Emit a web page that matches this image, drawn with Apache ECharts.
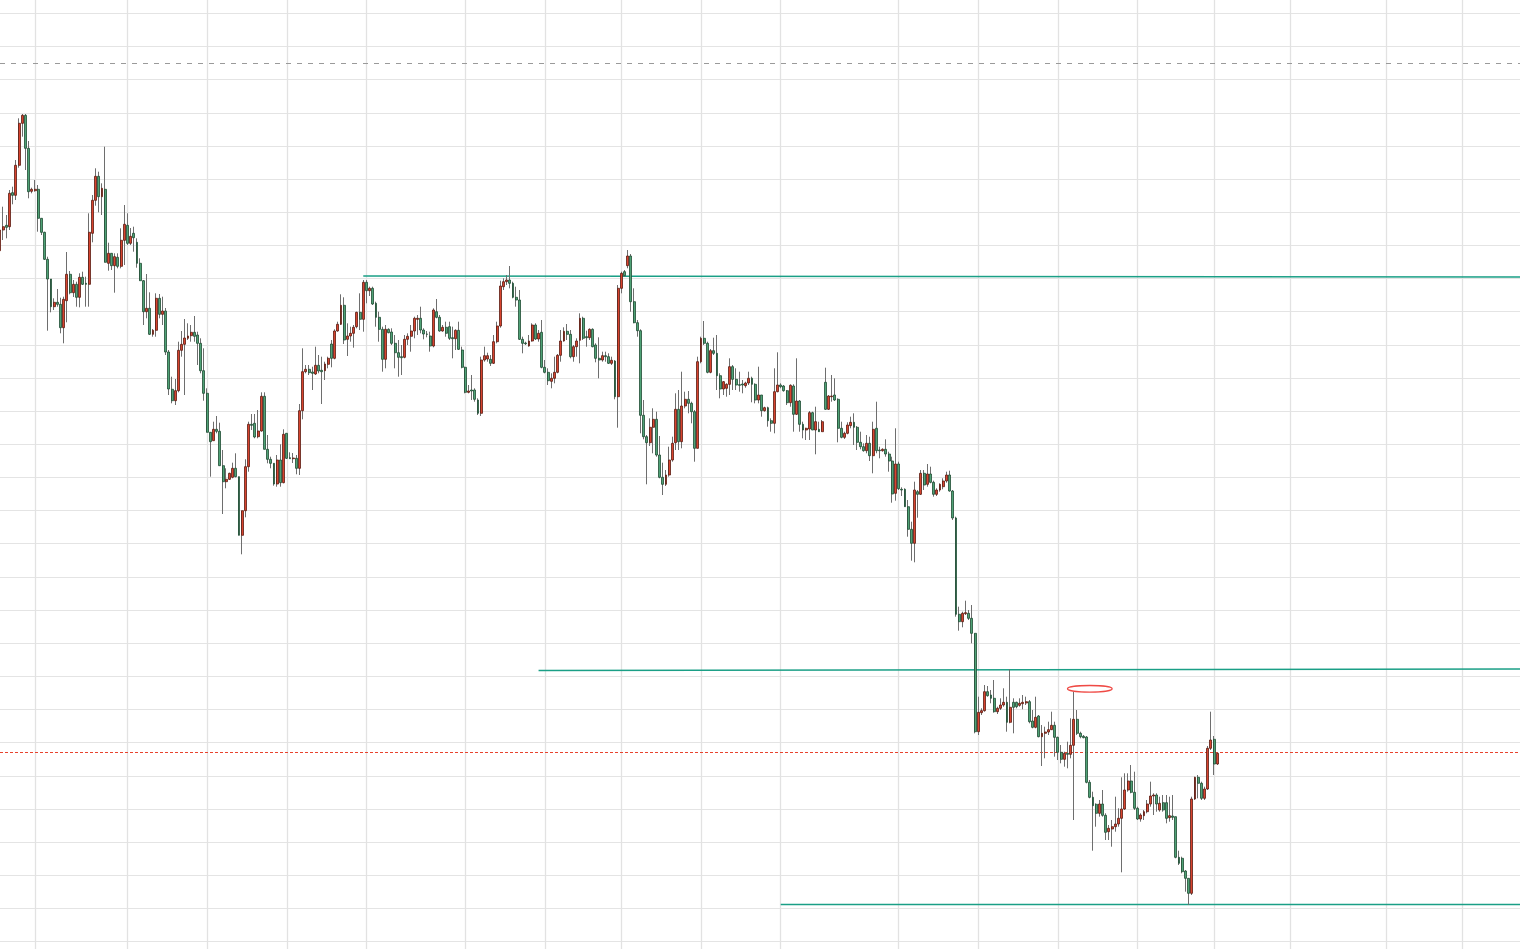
<!DOCTYPE html>
<html><head><meta charset="utf-8">
<script src="https://cdn.jsdelivr.net/npm/echarts@6/dist/echarts.min.js"></script>
<style>html,body{margin:0;padding:0;background:#fff;overflow:hidden;width:1521px;height:949px;position:relative;}
#c{position:absolute;left:0;top:-20px;width:1521px;height:996px;}</style>
</head><body><div id="c"></div>
<script>
// ---- candle data (price units) ----
const openP = [
74.93,77.00,77.47,77.33,80.73,80.47,83.47,87.67,88.47,85.17,
80.87,80.93,81.07,78.17,76.77,74.07,72.10,69.33,69.77,69.57,
67.23,69.93,72.57,70.73,71.57,70.27,72.27,71.67,71.57,76.67,
79.97,82.37,80.33,81.07,73.67,74.67,73.43,74.27,73.37,75.97,
77.47,75.67,76.67,75.77,73.67,71.93,68.83,69.17,66.57,66.97,
70.17,68.57,68.90,64.80,61.07,59.93,60.93,64.97,65.57,66.17,
66.43,66.77,66.50,65.67,62.93,60.67,56.77,55.93,57.07,56.87,
53.43,51.83,52.07,52.27,53.17,52.33,46.47,48.93,53.33,57.57,
57.67,56.33,56.90,60.37,55.07,54.07,53.67,51.60,54.00,51.73,
56.67,54.23,54.13,54.17,53.17,58.93,62.83,63.07,62.80,62.60,
63.47,62.97,62.93,63.57,65.60,64.17,66.90,67.57,69.47,66.07,
66.40,66.67,67.33,68.77,68.07,71.77,70.93,71.17,69.67,68.27,
67.07,64.07,67.07,66.80,65.67,64.73,64.33,64.27,66.07,66.37,
66.90,68.07,68.17,67.00,66.60,66.40,65.40,68.83,68.27,66.90,
67.27,67.33,66.23,66.13,66.97,65.00,63.27,60.77,61.00,61.00,
60.00,58.67,64.00,64.10,64.07,63.67,65.83,67.40,71.33,71.83,
72.00,71.67,70.27,70.00,66.07,65.70,65.40,65.90,67.50,66.10,
66.77,63.27,62.77,61.87,62.17,62.77,64.47,65.90,66.87,66.57,
64.33,65.33,65.97,68.17,66.33,66.23,67.07,65.50,64.17,64.00,
64.43,64.33,63.67,63.90,60.33,71.17,72.83,73.43,74.40,69.83,
67.73,66.93,58.47,56.33,55.73,57.27,58.07,54.50,52.27,51.57,
52.50,54.00,55.73,59.07,55.83,59.40,60.07,59.67,58.83,55.17,
63.83,66.17,65.67,62.77,64.93,64.67,62.43,61.10,61.17,61.57,
63.33,62.07,61.53,61.60,61.43,61.70,62.17,61.57,60.00,60.50,
58.93,59.23,57.93,57.67,60.83,61.50,61.40,60.93,59.73,61.40,
58.57,59.90,57.57,57.00,57.10,58.73,57.00,57.07,56.83,61.77,
59.07,60.33,60.50,60.07,57.17,56.27,56.67,57.43,57.77,57.27,
55.77,55.33,54.93,55.67,54.43,57.17,55.00,54.93,55.07,54.60,
53.90,50.67,53.60,51.07,51.07,49.33,47.07,45.67,50.83,50.57,
52.67,51.57,52.60,51.77,50.57,51.00,51.33,51.90,52.50,50.90,
48.20,38.57,37.83,38.63,38.67,38.17,36.67,26.83,28.73,28.93,
30.83,30.50,30.17,28.83,29.17,29.50,29.77,27.77,29.77,29.77,
29.47,29.63,29.70,29.83,27.90,27.27,28.40,26.33,26.67,26.80,
27.03,27.47,26.27,24.77,24.07,24.67,24.57,25.47,28.07,26.67,
26.37,26.30,21.77,20.27,19.57,18.67,19.60,18.47,16.83,17.10,
17.33,17.60,18.17,19.10,21.00,21.90,20.77,19.17,18.10,18.43,
18.83,19.60,20.40,20.50,19.00,19.73,19.73,18.23,18.40,18.33,
14.27,14.17,12.90,12.17,10.67,20.10,22.27,21.67,20.17,21.10,
25.17,26.07,23.60];
const highP = [
77.20,79.33,78.50,81.00,81.33,84.00,88.17,88.60,88.60,85.90,
81.23,82.00,81.50,78.17,76.83,74.33,72.10,70.17,71.10,70.23,
70.33,74.80,72.90,72.00,71.83,72.67,72.83,72.33,78.67,80.50,
83.17,82.83,81.67,85.33,75.73,74.67,74.67,74.67,77.17,79.50,
78.67,77.20,77.33,76.17,74.17,72.00,72.60,70.77,67.10,70.67,
70.60,70.33,69.20,65.00,62.33,62.10,65.83,66.90,68.10,67.67,
67.50,68.40,66.83,66.17,65.17,61.17,56.77,57.83,58.40,57.73,
55.00,53.17,52.73,53.73,54.67,52.33,48.93,54.07,57.83,58.60,
58.60,59.00,60.77,60.77,56.50,54.33,53.67,54.50,55.57,57.07,
56.67,54.77,54.70,54.50,59.60,65.17,63.50,63.50,63.33,65.33,
64.50,64.33,63.83,64.33,66.00,67.07,67.83,70.57,70.27,67.67,
67.33,67.50,68.83,70.67,72.00,72.00,71.33,71.33,69.83,68.83,
67.33,67.50,67.17,67.17,66.50,66.00,65.50,66.50,66.67,67.50,
68.33,68.50,69.33,67.17,66.90,66.83,69.17,70.10,68.50,67.50,
67.83,67.83,67.33,67.07,67.83,65.33,63.33,61.50,62.50,61.17,
60.17,64.33,65.33,64.73,64.50,66.50,67.83,71.93,72.17,72.50,
73.40,71.83,71.33,71.00,66.33,65.83,66.50,67.67,67.67,67.00,
68.00,64.00,63.17,62.67,64.33,64.60,67.00,67.27,67.60,67.00,
65.50,66.17,68.67,68.33,66.93,67.17,67.17,65.67,66.27,64.83,
64.83,64.67,64.33,64.00,71.50,72.83,73.00,75.00,74.60,71.17,
68.00,67.07,60.00,56.50,58.17,59.17,58.83,56.40,53.73,53.00,
55.33,56.33,60.67,61.00,62.83,60.83,60.90,59.83,59.00,64.33,
66.33,67.90,65.83,65.10,66.23,66.50,62.67,61.90,61.67,64.17,
63.50,63.17,62.83,62.00,61.83,62.83,62.33,61.67,63.33,60.50,
59.33,59.33,58.17,63.17,64.77,61.67,61.50,61.00,61.57,61.57,
64.17,60.00,57.83,57.23,58.90,58.83,59.33,57.83,58.00,63.23,
60.50,62.50,62.17,60.17,57.83,56.83,57.77,58.33,58.67,57.40,
56.83,55.67,56.50,56.33,57.83,59.83,55.33,55.17,56.07,54.83,
54.33,57.17,53.83,51.27,51.17,50.00,47.83,51.83,51.00,53.00,
53.00,53.60,53.33,51.93,51.17,51.67,52.17,52.83,52.93,51.00,
48.33,39.33,38.83,39.93,39.00,39.50,36.67,30.33,29.17,31.50,
31.40,31.00,32.00,29.33,30.17,31.17,30.33,33.07,30.17,29.83,
30.17,30.50,30.33,30.00,29.00,30.33,28.50,27.50,27.33,27.83,
28.83,27.83,26.33,25.50,24.83,25.83,28.17,30.83,29.00,26.83,
26.50,26.40,22.00,20.83,19.67,20.00,21.00,18.67,17.50,18.00,
20.33,19.17,22.27,22.67,22.67,23.50,22.83,19.33,18.67,19.00,
20.00,21.83,20.67,20.67,20.33,20.50,20.50,20.33,20.50,18.33,
14.93,14.33,13.00,12.17,20.33,22.33,22.50,21.83,21.33,25.40,
28.83,26.40,24.73];
const lowP = [
74.60,76.00,76.17,77.00,79.57,80.00,83.23,86.33,83.00,80.17,
80.67,80.83,76.83,76.50,74.00,66.93,68.77,69.00,69.33,66.67,
65.67,67.77,70.57,70.30,69.33,69.27,71.50,69.33,69.33,75.77,
79.43,78.77,78.50,73.77,72.93,73.00,70.73,73.17,73.17,73.50,
75.50,75.50,74.83,73.23,71.93,67.50,68.17,66.50,66.33,66.33,
68.17,67.50,64.50,60.50,59.67,59.50,60.77,64.33,60.50,66.00,
65.83,65.83,63.50,62.67,59.93,56.77,52.33,55.93,56.67,53.43,
48.60,51.17,52.00,52.17,52.27,46.47,44.57,48.27,52.83,57.00,
56.17,56.17,56.83,55.07,53.67,53.17,51.43,51.33,51.33,51.67,
54.10,54.13,53.70,52.57,52.50,58.07,62.67,62.50,61.00,62.50,
62.67,59.60,62.00,63.17,63.27,64.07,66.83,67.50,65.60,64.40,
65.83,65.23,67.17,67.00,66.83,69.67,70.40,69.50,67.33,65.83,
62.83,63.17,66.67,65.50,63.17,62.33,62.50,64.17,65.50,64.83,
66.17,66.50,66.67,66.07,66.27,64.83,65.27,68.17,66.83,66.83,
66.33,66.00,64.17,65.00,65.00,63.17,60.67,60.67,60.00,59.83,
58.50,58.40,63.83,63.83,63.40,63.60,65.67,67.23,71.00,71.50,
71.17,70.17,69.33,66.00,64.67,65.50,65.33,65.83,66.00,65.83,
63.17,62.67,61.50,61.17,61.67,62.67,63.83,65.83,66.00,64.17,
63.83,64.33,63.67,66.00,65.33,66.00,65.27,63.77,62.17,63.83,
63.83,63.60,63.50,60.07,57.23,70.67,72.33,73.17,68.83,67.67,
66.33,56.67,56.07,51.57,55.40,54.67,54.33,52.17,50.50,51.40,
52.33,53.83,55.00,55.00,55.17,59.17,58.67,57.67,53.83,55.17,
63.67,65.50,62.67,62.67,64.50,61.00,60.17,60.50,60.33,60.50,
61.00,61.00,60.83,60.67,61.23,61.50,59.77,59.67,59.67,58.33,
58.83,57.33,56.83,56.67,60.77,61.17,60.83,59.50,59.33,56.83,
58.50,56.83,56.17,56.00,56.00,57.00,54.57,56.83,56.83,59.00,
59.00,59.83,59.90,55.77,56.17,56.10,56.57,57.17,55.50,55.00,
55.07,54.83,54.67,53.90,52.67,54.67,54.17,54.83,54.33,52.83,
49.73,49.93,51.00,50.40,49.33,46.33,43.93,43.77,48.23,50.50,
51.00,51.33,51.67,50.33,50.40,50.83,51.07,51.73,50.83,48.00,
38.33,36.93,37.27,38.50,38.00,35.67,26.67,26.50,28.50,28.83,
30.33,29.67,28.73,28.60,29.00,29.33,26.83,27.67,26.67,29.17,
29.33,29.07,29.50,27.67,27.17,27.17,26.27,23.40,24.17,26.50,
27.00,24.33,24.00,23.67,23.33,23.17,24.17,18.00,26.50,26.17,
26.17,21.67,20.17,14.93,17.33,18.33,18.33,16.00,16.00,15.33,
16.83,17.33,12.77,19.00,20.83,20.67,19.00,18.00,17.83,18.00,
18.67,19.33,18.50,18.83,18.83,18.83,17.67,17.83,18.00,14.17,
13.50,12.67,10.83,9.50,10.50,20.00,20.17,20.00,20.00,21.00,
25.00,22.50,23.50];
const closeP = [
77.00,77.33,77.27,80.67,80.47,83.47,87.67,88.47,85.17,80.83,
81.07,81.07,78.17,76.77,74.07,72.10,69.33,69.77,69.57,67.23,
70.07,72.57,70.73,71.57,70.27,72.27,71.57,71.57,76.77,79.97,
82.37,80.33,81.17,73.77,74.67,73.43,74.33,73.37,75.97,77.57,
75.67,76.37,76.23,73.67,71.93,68.83,69.17,66.57,66.97,70.17,
68.57,68.90,64.80,61.10,59.93,60.93,64.97,65.57,66.20,66.40,
66.77,66.37,65.67,62.93,60.67,56.77,55.83,57.07,56.87,53.43,
51.83,52.07,52.67,53.17,52.33,46.47,48.93,53.33,57.57,57.47,
56.30,56.90,60.37,55.07,54.07,53.67,51.60,54.00,51.73,56.57,
54.17,54.13,54.20,53.17,58.93,62.83,63.07,62.73,62.67,63.47,
62.90,62.83,63.60,64.17,64.17,66.90,67.57,69.47,66.00,66.40,
66.67,67.27,68.77,68.07,71.77,70.93,71.17,69.60,68.27,67.07,
64.07,67.07,66.73,65.67,64.73,64.27,64.23,66.07,66.37,66.90,
68.17,68.17,67.00,66.60,66.57,65.40,69.00,68.27,66.90,67.27,
66.67,66.17,66.13,66.97,65.07,63.27,60.77,60.90,60.90,60.07,
58.67,64.00,64.43,64.43,63.67,65.83,67.40,71.40,71.83,72.00,
71.67,70.27,70.00,66.07,65.67,65.63,65.90,67.50,66.10,66.67,
63.27,62.77,61.93,62.17,62.77,64.47,65.90,66.87,66.57,64.33,
65.33,65.90,68.17,66.17,66.23,67.07,65.33,64.17,64.00,64.43,
64.33,63.67,63.97,60.33,71.17,72.67,72.43,74.40,69.83,67.73,
66.93,58.47,56.33,55.73,57.27,58.07,54.50,52.27,51.57,52.50,
54.00,55.67,59.07,55.83,59.40,60.07,59.67,58.83,55.17,63.83,
66.17,65.67,62.77,64.93,64.67,62.43,61.10,61.83,61.57,63.33,
62.07,61.50,61.47,61.50,61.70,62.17,61.57,60.00,60.50,58.93,
59.23,57.93,57.67,60.83,61.50,61.33,60.93,59.73,61.47,58.57,
59.90,57.57,57.00,57.17,58.73,57.00,57.83,56.83,57.83,59.07,
60.40,60.40,60.00,57.17,56.27,56.67,57.50,57.77,57.27,55.77,
55.33,54.93,55.67,54.43,57.07,54.93,54.93,55.07,54.60,53.90,
50.60,53.60,51.13,51.00,49.33,47.07,45.67,51.00,50.57,52.67,
51.50,52.60,51.77,50.57,51.00,51.57,51.90,52.50,50.90,48.20,
38.57,37.83,38.67,38.73,38.17,36.67,26.83,28.77,28.93,30.83,
30.43,30.17,28.83,29.17,29.50,29.77,27.77,29.27,29.27,29.33,
29.67,29.77,29.83,27.83,27.27,28.27,26.33,26.67,26.80,27.03,
27.47,26.27,24.77,24.07,24.67,24.57,25.47,28.07,26.67,26.33,
26.23,21.77,20.27,19.43,18.67,19.60,18.47,16.77,17.17,17.33,
17.60,18.17,19.10,21.00,21.90,20.77,19.17,18.10,18.50,18.83,
19.60,20.40,20.50,19.60,19.67,19.00,18.17,18.43,18.27,14.27,
13.67,12.83,12.17,10.67,20.10,22.27,21.67,20.17,21.10,25.17,
26.00,23.60,24.67];

// ---- axis / annotation values ----
const slotCount = 478;                 // categories incl. empty future slots
const dayBreaks = [11,40,65,90,115,146,171,195,220,245,282,307,332,357,381,405,435,459];
const priceMin = 2.535, priceMax = 101.985, priceStep = 3.315;
const dashedLevel = 93.67;             // grey dashed
const dottedLevel = 24.77;             // red dotted (last price)
const levels = [                        // teal horizontal levels [startIdx, startPrice, endPrice]
  [114, 72.40, 72.30],
  [169, 32.95, 33.10],
  [245, 9.57, 9.57]
];
const markEllipse = {idx: 342, price: 31.12, halfCandles: 7, halfPrice: 0.33};

const categories = Array.from({length: slotCount}, (_, i) => String(i));
const wickData = openP.map((o, i) => [o, closeP[i], lowP[i], highP[i]]);
const bodyData = openP.map((o, i) => [o, closeP[i], Math.min(o, closeP[i]), Math.max(o, closeP[i])]);
const breakSet = new Set(dayBreaks);

const chart = echarts.init(document.getElementById('c'), null, {renderer: 'canvas'});
const option = {
  animation: false,
  backgroundColor: '#ffffff',
  grid: {left: 0, right: 1, top: 0.15, bottom: 1.35, containLabel: false},
  xAxis: {
    type: 'category', data: categories, boundaryGap: false,
    axisLine: {show: false}, axisTick: {show: false}, axisLabel: {show: false},
    splitLine: {show: true, interval: (i) => breakSet.has(i), lineStyle: {color: '#e2e2e2', width: 1.3}}
  },
  yAxis: {
    type: 'value', min: priceMin, max: priceMax, interval: priceStep,
    axisLine: {show: false}, axisTick: {show: false}, axisLabel: {show: false},
    splitLine: {show: true, lineStyle: {color: '#e4e4e4', width: 1}}
  },
  series: [
    {
      type: 'line', data: [], z: 1, silent: true,
      markLine: {
        silent: true, symbol: ['none', 'none'], z: 1, animation: false,
        label: {show: false},
        data: [
          {yAxis: dashedLevel, lineStyle: {color: '#9a9a9a', width: 1, type: [5, 6]}},
          {yAxis: dottedLevel, lineStyle: {color: '#e8432e', width: 1, type: [3, 2]}},
          ...levels.map(l => [
            {coord: [String(l[0]), l[1]], lineStyle: {color: '#1a9f86', width: 1.4, type: 'solid'}},
            {coord: [String(slotCount - 1), l[2]]}
          ])
        ]
      }
    },
    {
      name: 'wick', type: 'candlestick', data: wickData, z: 2, barWidth: 0.6,
      itemStyle: {color: '#6e6e6e', color0: '#6e6e6e', borderColor: '#6e6e6e', borderColor0: '#6e6e6e', borderWidth: 1}
    },
    {
      name: 'body', type: 'candlestick', data: bodyData, z: 3, barWidth: 2.4,
      itemStyle: {color: '#d8432e', color0: '#4fa276', borderColor: '#5a1c12', borderColor0: '#1f4b33', borderWidth: 0.8}
    }
  ]
};
chart.setOption(option);

const c0 = chart.convertToPixel({gridIndex: 0}, [String(markEllipse.idx), markEllipse.price]);
const c1 = chart.convertToPixel({gridIndex: 0}, [String(markEllipse.idx + markEllipse.halfCandles), markEllipse.price + markEllipse.halfPrice]);
chart.setOption({
  graphic: [{
    type: 'ellipse', z: 20, silent: true,
    shape: {cx: c0[0], cy: c0[1], rx: Math.abs(c1[0] - c0[0]), ry: Math.abs(c1[1] - c0[1])},
    style: {fill: 'rgba(255,255,255,0)', stroke: '#ef4a45', lineWidth: 1.3}
  }]
});
</script></body></html>
